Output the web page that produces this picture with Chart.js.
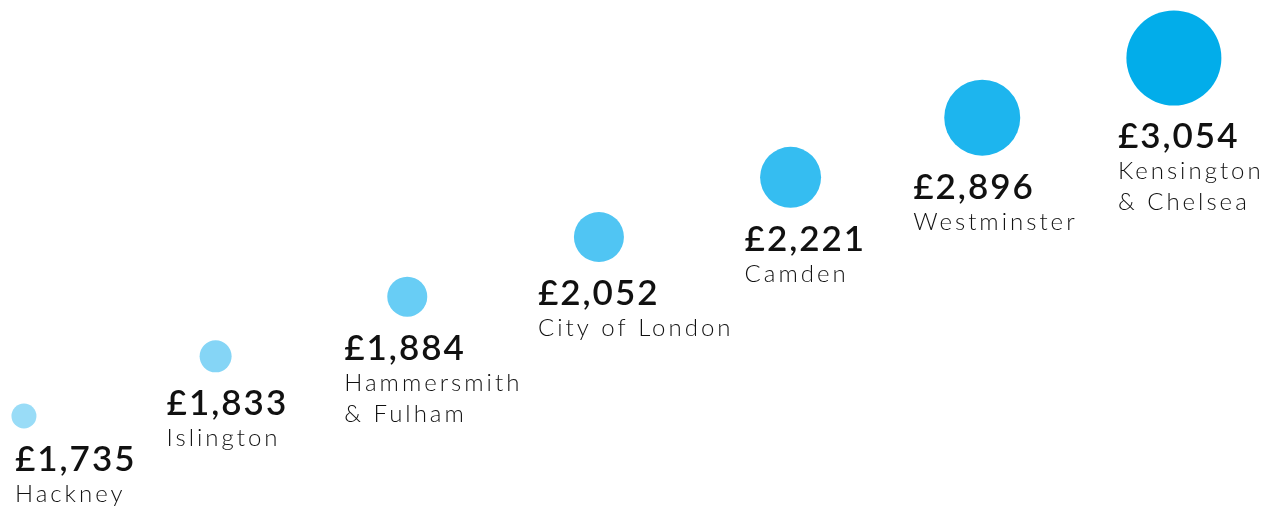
<!DOCTYPE html>
<html>
<head>
<meta charset="utf-8">
<script src="https://cdn.jsdelivr.net/npm/chart.js@4"></script>
<style>
  html, body { margin: 0; padding: 0; background: #fff; }
  #wrap { width: 1277px; height: 508px; }
</style>
</head>
<body>
<div id="wrap"><canvas id="canvas1" width="1277" height="508"></canvas></div>
<script>
// boroughs, lowest to highest
var boroughs = ['Hackney', 'Islington', 'Hammersmith\n& Fulham', 'City of London', 'Camden', 'Westminster', 'Kensington\n& Chelsea'];
var rents = [1735, 1833, 1884, 2052, 2221, 2896, 3054];

// styling
var bubbleSizes = [12.5, 16, 20, 25, 30.5, 38, 47.5];
var bubbleColours = ['#99dcf7', '#85d5f6', '#68cdf5', '#50c5f3', '#35bdf1', '#1db5ee', '#02adea'];
var labelShift = [-9, -49, -63, -61, -46, -69, -56];

var points = rents.map(function(v, i) { return { x: i, y: i }; });

var labelPlugin = {
  id: 'labels',
  afterDatasetsDraw: function(chart) {
    var ctx = chart.ctx;
    var meta = chart.getDatasetMeta(0);
    ctx.save();
    ctx.fillStyle = '#111';
    ctx.textAlign = 'left';
    ctx.textBaseline = 'alphabetic';
    meta.data.forEach(function(el, i) {
      var r = bubbleSizes[i];
      var x = el.x + labelShift[i];
      var y = el.y + r + 43;
      ctx.font = '600 35px Lato';
      ctx.letterSpacing = '2px';
      ctx.fillText('£' + rents[i].toLocaleString('en-GB'), x, y);
      ctx.font = '300 24px Lato';
      ctx.letterSpacing = '3px';
      boroughs[i].split('\n').forEach(function(line, j) {
        ctx.fillText(line, x, y + 31 + j * 31);
      });
    });
    ctx.restore();
  }
};

window.onload = function() {
  var ctx1 = document.getElementById('canvas1').getContext('2d');
  window.myBubble = new Chart(ctx1, {
    type: 'bubble',
    data: {
      labels: boroughs,
      datasets: [{
        data: points,
        backgroundColor: bubbleColours,
        borderWidth: 0,
        radius: function(c) { return bubbleSizes[c.dataIndex]; },
        hoverRadius: 0
      }]
    },
    options: {
      responsive: false,
      animation: false,
      layout: { padding: 0, autoPadding: false },
      plugins: {
        legend: { display: false },
        tooltip: { enabled: false }
      },
      scales: {
        x: { type: 'linear', display: false, min: -0.125, max: 6.538 },
        y: { type: 'linear', display: false, min: -1.542, max: 6.972 }
      }
    },
    plugins: [labelPlugin]
  });
};
</script>
</body>
</html>
